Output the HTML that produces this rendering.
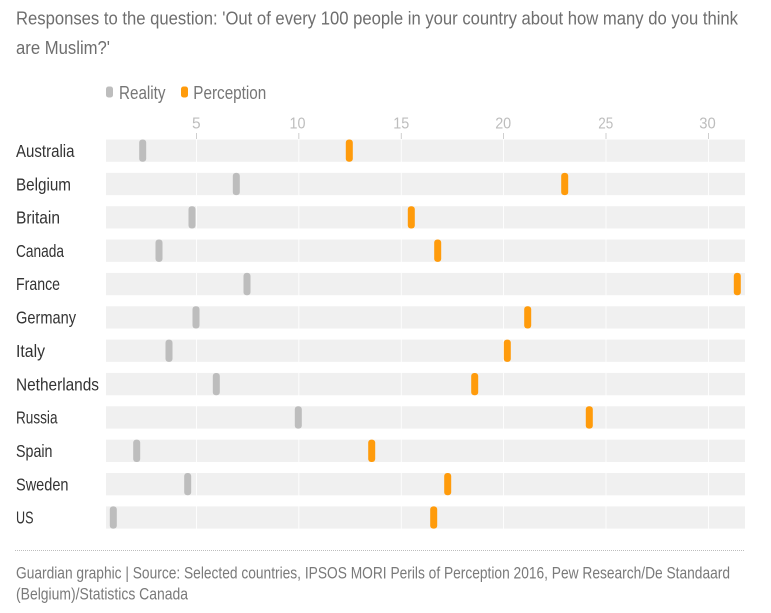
<!DOCTYPE html>
<html>
<head>
<meta charset="utf-8">
<style>
html,body{margin:0;padding:0;background:#fff;}
svg{display:block;}
text{font-family:"Liberation Sans",sans-serif;}
</style>
</head>
<body>
<svg width="771" height="613" viewBox="0 0 771 613" xmlns="http://www.w3.org/2000/svg">
  <!-- Title -->
  <text x="16" y="24.5" font-size="18" fill="#6e6e6e" textLength="722" lengthAdjust="spacingAndGlyphs">Responses to the question: 'Out of every 100 people in your country about how many do you think</text>
  <text x="16" y="54" font-size="18" fill="#6e6e6e" textLength="94" lengthAdjust="spacingAndGlyphs">are Muslim?'</text>

  <!-- Legend -->
  <rect x="106" y="86.5" width="7" height="11" rx="2.5" fill="#bdbdbd"/>
  <text x="119" y="99" font-size="18" fill="#767676" textLength="46.5" lengthAdjust="spacingAndGlyphs">Reality</text>
  <rect x="181" y="86.5" width="7" height="11" rx="2.5" fill="#ff9b0b"/>
  <text x="193.3" y="99" font-size="18" fill="#767676" textLength="73" lengthAdjust="spacingAndGlyphs">Perception</text>

  <!-- Tick labels -->
  <g font-size="15.5" fill="#bdbdbd" text-anchor="middle">
    <text x="196.3" y="128.5">5</text>
    <text x="297.5" y="128.5" textLength="16" lengthAdjust="spacingAndGlyphs">10</text>
    <text x="401.3" y="128.5" textLength="16" lengthAdjust="spacingAndGlyphs">15</text>
    <text x="503.2" y="128.5" textLength="16" lengthAdjust="spacingAndGlyphs">20</text>
    <text x="605.8" y="128.5" textLength="15" lengthAdjust="spacingAndGlyphs">25</text>
    <text x="707.5" y="128.5" textLength="16.5" lengthAdjust="spacingAndGlyphs">30</text>
  </g>
  <!-- Tick marks -->
  <g stroke="#cfcfcf" stroke-width="1">
    <line x1="196.5" y1="133" x2="196.5" y2="139"/>
    <line x1="298.8" y1="133" x2="298.8" y2="139"/>
    <line x1="401.3" y1="133" x2="401.3" y2="139"/>
    <line x1="503.5" y1="133" x2="503.5" y2="139"/>
    <line x1="606" y1="133" x2="606" y2="139"/>
    <line x1="708.5" y1="133" x2="708.5" y2="139"/>
  </g>

  <!-- Row backgrounds -->
  <g fill="#f0f0f0">
    <rect x="106" y="139.5" width="639" height="22.3"/>
    <rect x="106" y="172.85" width="639" height="22.3"/>
    <rect x="106" y="206.2" width="639" height="22.3"/>
    <rect x="106" y="239.55" width="639" height="22.3"/>
    <rect x="106" y="272.9" width="639" height="22.3"/>
    <rect x="106" y="306.25" width="639" height="22.3"/>
    <rect x="106" y="339.6" width="639" height="22.3"/>
    <rect x="106" y="372.95" width="639" height="22.3"/>
    <rect x="106" y="406.3" width="639" height="22.3"/>
    <rect x="106" y="439.65" width="639" height="22.3"/>
    <rect x="106" y="473" width="639" height="22.3"/>
    <rect x="106" y="506.35" width="639" height="22.3"/>
  </g>
  <!-- Gridlines inside rows -->
  <g stroke="#ffffff" stroke-width="1" opacity="0.9">
    <line x1="196.5" y1="139" x2="196.5" y2="529"/>
    <line x1="298.8" y1="139" x2="298.8" y2="529"/>
    <line x1="401.3" y1="139" x2="401.3" y2="529"/>
    <line x1="503.5" y1="139" x2="503.5" y2="529"/>
    <line x1="606" y1="139" x2="606" y2="529"/>
    <line x1="708.5" y1="139" x2="708.5" y2="529"/>
  </g>

  <!-- Country labels -->
  <g font-size="17.5" fill="#333333">
    <text x="16" y="157" textLength="58.5" lengthAdjust="spacingAndGlyphs">Australia</text>
    <text x="16" y="190.3" textLength="55" lengthAdjust="spacingAndGlyphs">Belgium</text>
    <text x="16" y="223.5" textLength="44" lengthAdjust="spacingAndGlyphs">Britain</text>
    <text x="16" y="256.9" textLength="48" lengthAdjust="spacingAndGlyphs">Canada</text>
    <text x="16" y="290.2" textLength="44" lengthAdjust="spacingAndGlyphs">France</text>
    <text x="16" y="323.6" textLength="60" lengthAdjust="spacingAndGlyphs">Germany</text>
    <text x="16" y="356.9" textLength="29" lengthAdjust="spacingAndGlyphs">Italy</text>
    <text x="16" y="390.3" textLength="83" lengthAdjust="spacingAndGlyphs">Netherlands</text>
    <text x="16" y="423.6" textLength="41.5" lengthAdjust="spacingAndGlyphs">Russia</text>
    <text x="16" y="457" textLength="36.5" lengthAdjust="spacingAndGlyphs">Spain</text>
    <text x="16" y="490.3" textLength="52.5" lengthAdjust="spacingAndGlyphs">Sweden</text>
    <text x="16" y="523.7" textLength="17.5" lengthAdjust="spacingAndGlyphs">US</text>
  </g>

  <!-- Reality markers -->
  <g fill="#bdbdbd">
    <rect x="139.2" y="139.5" width="7" height="22.3" rx="3"/>
    <rect x="232.8" y="172.85" width="7" height="22.3" rx="3"/>
    <rect x="188.5" y="206.2" width="7" height="22.3" rx="3"/>
    <rect x="155.5" y="239.55" width="7" height="22.3" rx="3"/>
    <rect x="243.5" y="272.9" width="7" height="22.3" rx="3"/>
    <rect x="192.5" y="306.25" width="7" height="22.3" rx="3"/>
    <rect x="165.5" y="339.6" width="7" height="22.3" rx="3"/>
    <rect x="212.8" y="372.95" width="7" height="22.3" rx="3"/>
    <rect x="294.8" y="406.3" width="7" height="22.3" rx="3"/>
    <rect x="133.2" y="439.65" width="7" height="22.3" rx="3"/>
    <rect x="184.2" y="473" width="7" height="22.3" rx="3"/>
    <rect x="109.8" y="506.35" width="7" height="22.3" rx="3"/>
  </g>
  <!-- Perception markers -->
  <g fill="#ff9b0b">
    <rect x="345.8" y="139.5" width="7" height="22.3" rx="3"/>
    <rect x="561.2" y="172.85" width="7" height="22.3" rx="3"/>
    <rect x="407.8" y="206.2" width="7" height="22.3" rx="3"/>
    <rect x="434.2" y="239.55" width="7" height="22.3" rx="3"/>
    <rect x="733.8" y="272.9" width="7" height="22.3" rx="3"/>
    <rect x="524.2" y="306.25" width="7" height="22.3" rx="3"/>
    <rect x="503.8" y="339.6" width="7" height="22.3" rx="3"/>
    <rect x="471.2" y="372.95" width="7" height="22.3" rx="3"/>
    <rect x="585.8" y="406.3" width="7" height="22.3" rx="3"/>
    <rect x="368.2" y="439.65" width="7" height="22.3" rx="3"/>
    <rect x="444.2" y="473" width="7" height="22.3" rx="3"/>
    <rect x="430.2" y="506.35" width="7" height="22.3" rx="3"/>
  </g>

  <!-- Dotted separator -->
  <line x1="15" y1="550.5" x2="745" y2="550.5" stroke="#bdbdbd" stroke-width="1" stroke-dasharray="1,1"/>

  <!-- Footer -->
  <text x="16" y="578.3" font-size="16.5" fill="#7a7a7a" textLength="714" lengthAdjust="spacingAndGlyphs">Guardian graphic | Source: Selected countries, IPSOS MORI Perils of Perception 2016, Pew Research/De Standaard</text>
  <text x="16" y="599.3" font-size="16.5" fill="#7a7a7a" textLength="172" lengthAdjust="spacingAndGlyphs">(Belgium)/Statistics Canada</text>
</svg>
</body>
</html>
